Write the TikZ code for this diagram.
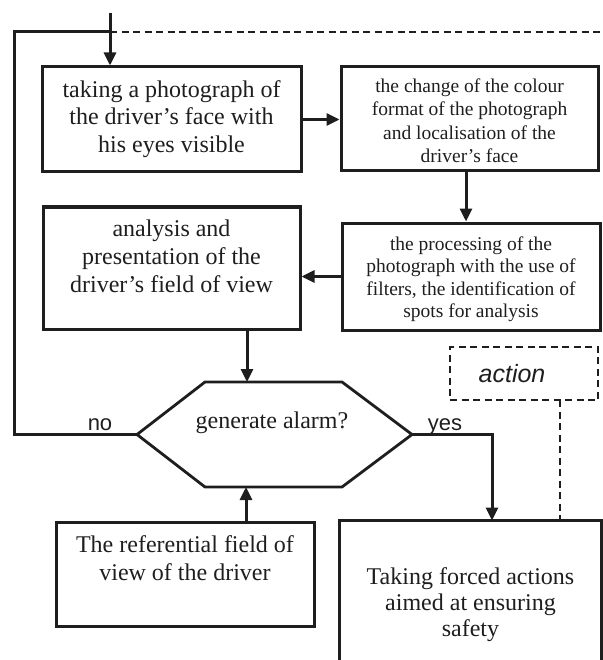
\documentclass[tikz,border=0pt]{standalone}
\usepackage{fontspec}
\setmainfont{Liberation Serif}
\newfontfamily\sansf{Liberation Sans}
\usetikzlibrary{arrows.meta,calc}
\definecolor{ink}{HTML}{1E1E1E}
\newcommand\boxtext[2]{\raisebox{#1}[\height][\depth]{\begin{tabular}{@{}c@{}}#2\end{tabular}}}
\begin{document}
\begin{tikzpicture}[x=1pt,y=-1pt,line width=3pt,color=ink,
  box/.style={draw,rectangle,inner sep=0pt,font=\fontsize{24}{27.5}\selectfont},
  smalltext/.style={font=\fontsize{19.5}{23.5}\selectfont},
  arr/.style={-{Triangle[length=13pt,width=12pt]}},
  lbl/.style={font=\sansf\fontsize{22}{26}\selectfont,inner sep=0pt,anchor=base},
  dashline/.style={line width=2.6pt,dash pattern=on 7pt off 4.5pt}]
\useasboundingbox (0,0) rectangle (602,660);

\node[box,minimum width=259pt,minimum height=105pt] (b1) at (171.5,119.5)
  {\boxtext{0pt}{taking a photograph of\\the driver’s face with\\his eyes visible}};
\node[box,smalltext,minimum width=257pt,minimum height=104pt] (b2) at (469.5,119)
  {\boxtext{-4pt}{the change of the colour\\format of the photograph\\and localisation of the\\driver’s face}};
\node[box,font=\fontsize{19.5}{22.5}\selectfont,minimum width=258pt,minimum height=107pt] (b3) at (471,276.5)
  {\boxtext{-3pt}{the processing of the\\photograph with the use of\\filters, the identification of\\spots for analysis}};
\node[box,font=\fontsize{24}{28}\selectfont,minimum width=257pt,minimum height=122pt] (b4) at (171.5,268)
  {\boxtext{9pt}{analysis and\\presentation of the\\driver’s field of view}};
\node[box,font=\fontsize{24}{28}\selectfont,minimum width=258pt,minimum height=104pt] (b5) at (185,574)
  {\boxtext{13pt}{The referential field of\\view of the driver}};
\node[box,draw=none,font=\fontsize{24}{26}\selectfont,minimum width=259pt,minimum height=138pt] (b6) at (470.5,591)
  {\boxtext{-14pt}{Taking forced actions\\aimed at ensuring\\safety}};
\draw (b6.south west) -- (b6.north west) -- (b6.north east) -- (b6.south east);

\node[draw,dashline,inner sep=0pt,minimum width=148pt,minimum height=53pt,
  font=\sansf\itshape\fontsize{25}{28}\selectfont] (act) at (524,373.5)
  {\hspace*{-12pt}action\hspace*{12pt}};

% hexagon
\coordinate (hL) at (137,434.5);
\coordinate (hTL) at (205,382);
\coordinate (hTR) at (342,382);
\coordinate (hR) at (412,434.5);
\coordinate (hBR) at (342,487);
\coordinate (hBL) at (205,487);
\draw[line width=2.8pt] (hL) -- (hTL) -- (hTR) -- (hR) -- (hBR) -- (hBL) -- cycle;
\node[font=\fontsize{24}{27}\selectfont,inner sep=0pt] (q) at (272,423) {generate alarm?};

% connectors
\coordinate (s) at (110,13);
\coordinate (j) at (110,32);
\coordinate (lt) at (14,32);
\coordinate (lb) at (14,434.5);
\coordinate (e) at (602,32);
\draw[arr] (s) -- (s |- b1.north);
\draw (hL) -- (lb) -- (lt) -- (j);
\draw[dashline] (j) -- (e);

\draw[arr] (b1.east) -- (b1.east -| b2.west);
\coordinate (v2) at (466,171);
\draw[arr] (v2) -- (v2 |- b3.north);
\draw[arr] (b3.west) -- (b3.west -| b4.east);
\coordinate (hA) at (247,382);
\draw[arr] (hA |- b4.south) -- (hA);
\coordinate (hB) at (246,487);
\draw[arr] (hB |- b5.north) -- (hB);
\coordinate (yc) at (492,434.5);
\draw[arr] (hR) -- (yc) -- (yc |- b6.north);
\coordinate (ad) at (560,400);
\draw[dashline] (ad) -- (ad |- b6.north);

\node[lbl] (no) at (100,430) {no};
\node[lbl] (yes) at (445,430) {yes};
\end{tikzpicture}
\end{document}
